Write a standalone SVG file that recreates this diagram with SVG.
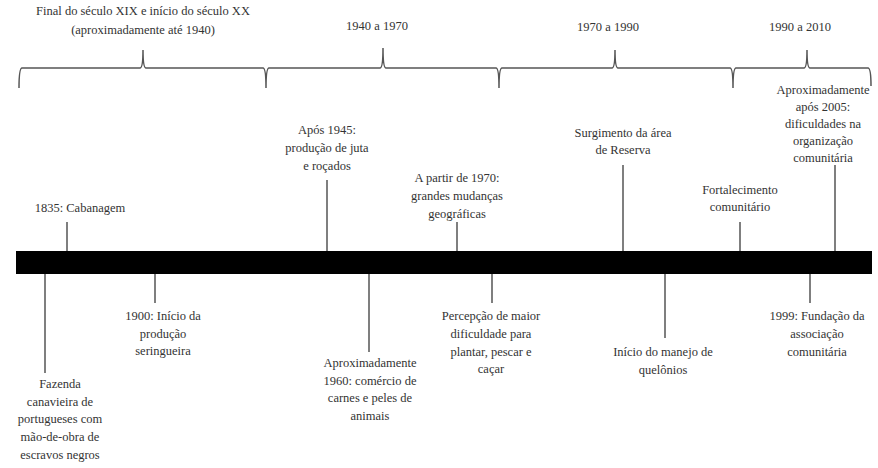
<svg xmlns="http://www.w3.org/2000/svg" width="878" height="468" viewBox="0 0 878 468">
<style>
text{font-family:'Liberation Serif','DejaVu Serif','Times New Roman',serif;font-size:12.5px;fill:#333;text-anchor:middle}
.ln{stroke:#555;stroke-width:1.5;fill:none}
</style>
<rect width="878" height="468" fill="#fff"/>
<g id="periods">
<text x="143" y="15">Final do século XIX e início  do século XX</text>
<text x="143" y="34">(aproximadamente  até  1940)</text>
<text x="377" y="30">1940 a 1970</text>
<text x="608" y="31">1970 a 1990</text>
<text x="800" y="31">1990 a 2010</text>
</g>
<g id="braces">
<path class="ln" d="M19,88 Q19,68 22,68 H140 Q143,68 143,50 Q143,68 146,68 H263 Q266,68 266,88 Q266,68 269,68 H380 Q383,68 383,48 Q383,68 386,68 H496 Q499,68 499,88 Q499,68 502,68 H612 Q615,68 615,50 Q615,68 618,68 H730 Q733,68 733,88 Q733,68 736,68 H804 Q807,68 807,50 Q807,68 810,68 H868 Q871,68 871,86"/>
</g>
<g id="bar">
<rect x="16" y="251" width="856" height="23" fill="#000"/>
</g>
<g id="connectors">
<line class="ln" x1="67" y1="222" x2="67" y2="251"/>
<line class="ln" x1="327" y1="180" x2="327" y2="251"/>
<line class="ln" x1="457" y1="222" x2="457" y2="251"/>
<line class="ln" x1="623" y1="165" x2="623" y2="251"/>
<line class="ln" x1="740" y1="222" x2="740" y2="251"/>
<line class="ln" x1="835" y1="165" x2="835" y2="251"/>
<line class="ln" x1="45" y1="274" x2="45" y2="373"/>
<line class="ln" x1="155" y1="274" x2="155" y2="303"/>
<line class="ln" x1="369" y1="274" x2="369" y2="352"/>
<line class="ln" x1="492" y1="274" x2="492" y2="303"/>
<line class="ln" x1="665" y1="274" x2="665" y2="338"/>
<line class="ln" x1="810" y1="274" x2="810" y2="303"/>
</g>
<g id="e1835"><text x="80" y="212">1835: Cabanagem</text></g>
<g id="e1945"><text x="327" y="134">Após 1945:</text><text x="327" y="152">produção de juta</text><text x="327" y="170">e roçados</text></g>
<g id="e1970"><text x="457" y="182">A partir de 1970:</text><text x="457" y="200">grandes mudanças</text><text x="457" y="218">geográficas</text></g>
<g id="eReserva"><text x="623" y="137">Surgimento  da área</text><text x="623" y="154">de Reserva</text></g>
<g id="eFortalec"><text x="740" y="194">Fortalecimento</text><text x="740" y="211">comunitário</text></g>
<g id="e2005"><text x="823" y="94">Aproximadamente</text><text x="823" y="111">após 2005:</text><text x="823" y="128">dificuldades  na</text><text x="823" y="145">organização</text><text x="823" y="162">comunitária</text></g>
<g id="eFazenda"><text x="60" y="388">Fazenda</text><text x="60" y="406">canavieira  de</text><text x="60" y="423">portugueses  com</text><text x="60" y="441">mão-de-obra de</text><text x="60" y="459">escravos negros</text></g>
<g id="e1900"><text x="163" y="320">1900: Início  da</text><text x="163" y="338">produção</text><text x="163" y="355">seringueira</text></g>
<g id="e1960"><text x="370" y="367">Aproximadamente</text><text x="370" y="385">1960: comércio de</text><text x="370" y="402">carnes e peles de</text><text x="370" y="420">animais</text></g>
<g id="ePercepcao"><text x="491" y="320">Percepção de maior</text><text x="491" y="338">dificuldade  para</text><text x="491" y="356">plantar,  pescar e</text><text x="491" y="373">caçar</text></g>
<g id="eQuelonios"><text x="663" y="356">Início  do manejo de</text><text x="663" y="374">quelônios</text></g>
<g id="e1999"><text x="817" y="320">1999: Fundação da</text><text x="817" y="338">associação</text><text x="817" y="356">comunitária</text></g>
</svg>
